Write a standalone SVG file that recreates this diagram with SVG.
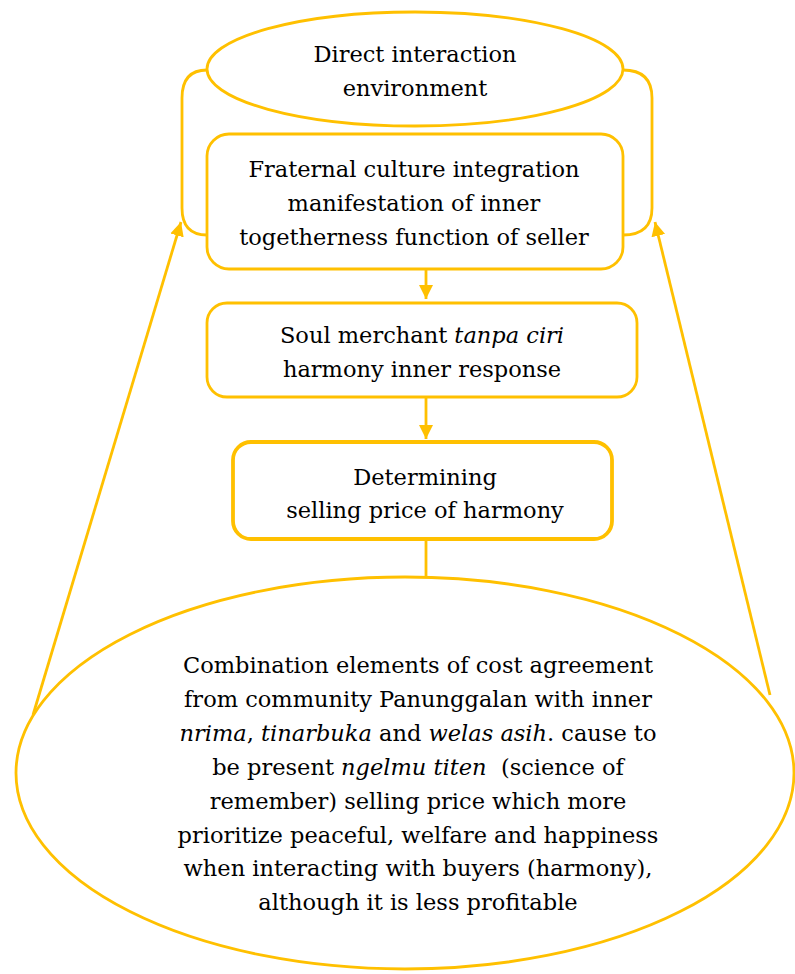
<svg xmlns="http://www.w3.org/2000/svg" width="795" height="974" viewBox="0 0 795 974">
<style>
.s{fill:none;stroke:#FFC000;stroke-width:2.8}
.b{fill:#fff;stroke:#FFC000;stroke-width:2.8}
text{font-family:'DejaVu Serif',serif;font-size:22.5px;fill:#000;text-anchor:middle}
.i{font-style:italic}
</style>
<defs>
<marker id="ah" viewBox="0 0 10 10" refX="10" refY="5" markerWidth="5" markerHeight="5.4" orient="auto" markerUnits="strokeWidth">
<path d="M0,0 L10,5 L0,10 z" fill="#FFC000"/>
</marker>
</defs>
<g id="connectors">
<path class="s" d="M207,70 Q182,70 182,98 L182,208 Q182,235 207,235"/>
<path class="s" d="M623,70 Q652,70 652,98 L652,208 Q652,235 623,235"/>
<line class="s" x1="426" y1="269" x2="426" y2="299" marker-end="url(#ah)"/>
<line class="s" x1="426" y1="397" x2="426" y2="439" marker-end="url(#ah)"/>
<line class="s" x1="426" y1="539" x2="426" y2="578"/>
<line class="s" x1="33" y1="715" x2="181" y2="222" marker-end="url(#ah)"/>
<line class="s" x1="770" y1="695" x2="655" y2="222" marker-end="url(#ah)"/>
</g>
<g id="n1">
<ellipse class="b" cx="415" cy="69" rx="208" ry="57"/>
<text x="415" y="62">Direct interaction</text>
<text x="415" y="96">environment</text>
</g>
<g id="n2">
<rect class="b" x="207" y="134" width="416" height="135" rx="22"/>
<text x="414" y="177">Fraternal culture integration</text>
<text x="414" y="211">manifestation of inner</text>
<text x="414" y="245">togetherness function of seller</text>
</g>
<g id="n3">
<rect class="b" x="207" y="303" width="430" height="94" rx="20"/>
<text x="422" y="343">Soul merchant <tspan class="i">tanpa ciri</tspan></text>
<text x="422" y="377">harmony inner response</text>
</g>
<g id="n4">
<rect class="b" x="233" y="442" width="379" height="97" rx="18" style="stroke-width:3.8"/>
<text x="425" y="485">Determining</text>
<text x="425" y="518">selling price of harmony</text>
</g>
<g id="n5">
<ellipse class="b" cx="405" cy="773" rx="389" ry="196"/>
<text x="418" y="673">Combination elements of cost agreement</text>
<text x="418" y="707">from community Panunggalan with inner</text>
<text x="418" y="741"><tspan class="i">nrima</tspan>, <tspan class="i">tinarbuka</tspan> and <tspan class="i">welas asih</tspan>. cause to</text>
<text x="418" y="775" xml:space="preserve">be present <tspan class="i">ngelmu titen</tspan>  (science of</text>
<text x="418" y="809">remember) selling price which more</text>
<text x="418" y="843">prioritize peaceful, welfare and happiness</text>
<text x="418" y="876">when interacting with buyers (harmony),</text>
<text x="418" y="910">although it is less profitable</text>
</g>
</svg>
